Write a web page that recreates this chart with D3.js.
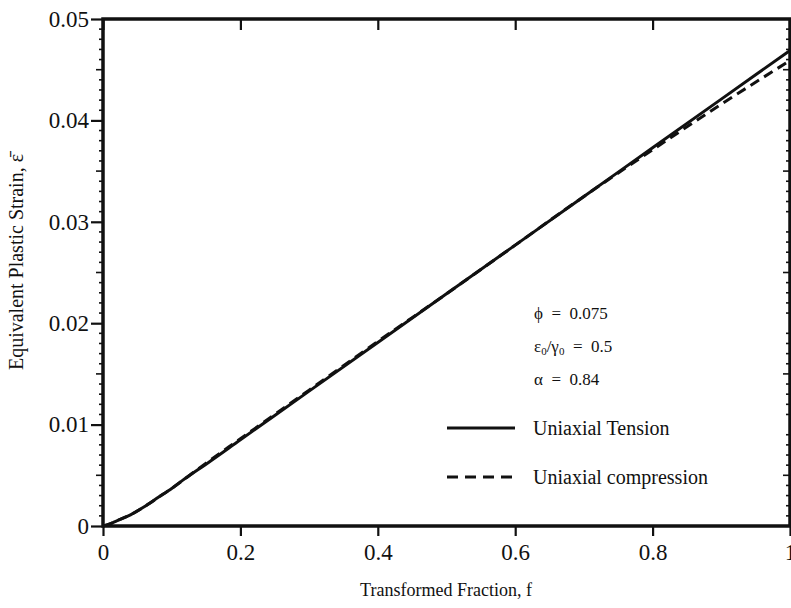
<!DOCTYPE html>
<html><head><meta charset="utf-8">
<script src="https://cdn.jsdelivr.net/npm/d3@7"></script>
<style>body{margin:0;background:#fff;} text{font-family:"Liberation Serif","Times New Roman",serif;fill:#111;}</style>
</head><body>
<svg id="c" width="791" height="608"></svg>
<script>
const fraction = [0, 0.01, 0.02, 0.04, 0.06, 0.08, 0.1, 0.12, 0.15, 0.2, 0.3, 0.4, 0.5, 0.6, 0.7, 0.8, 0.9, 1.0];
const tension = [0, 0.0002, 0.0005, 0.0011, 0.0019, 0.0028, 0.0037, 0.0047, 0.0061, 0.0085, 0.0133, 0.0181, 0.0229, 0.0277, 0.0325, 0.0373, 0.0421, 0.0469];
const compression = [0, 0.0002, 0.0005, 0.0011, 0.0019, 0.0028, 0.0037, 0.0047, 0.0062, 0.0086, 0.0134, 0.0182, 0.0229, 0.0277, 0.0325, 0.0371, 0.0416, 0.0459];
const xTicks = [0, 0.2, 0.4, 0.6, 0.8, 1];
const xTickLabels = ["0", "0.2", "0.4", "0.6", "0.8", "1"];
const yTicks = [0, 0.01, 0.02, 0.03, 0.04, 0.05];
const yTickLabels = ["0", "0.01", "0.02", "0.03", "0.04", "0.05"];
const seriesNames = ["Uniaxial Tension", "Uniaxial compression"];
const params = ["\u03D5\u2002=\u20020.075", "", "\u03B1\u2002=\u20020.84"];

const svg = d3.select("#c");
const L = 103, R = 790, T = 19, B = 526;
const x = d3.scaleLinear().domain([0, 1]).range([L, R]);
const y = d3.scaleLinear().domain([0, 0.05]).range([B, T]);

// minor y ticks
const minor = d3.range(0, 51).map(i => i * 0.001);
const g = svg.append("g");
minor.forEach((v, i) => {
  if (i % 10 === 0) return;
  const len = (i % 5 === 0) ? 7 : 4;
  g.append("line").attr("x1", L - len).attr("x2", L).attr("y1", y(v)).attr("y2", y(v)).attr("stroke", "#111").attr("stroke-width", 1.6);
  g.append("line").attr("x1", R).attr("x2", R - len).attr("y1", y(v)).attr("y2", y(v)).attr("stroke", "#111").attr("stroke-width", 1.6);
});

// axes
const axL = d3.axisLeft(y).tickValues(yTicks).tickFormat((d, i) => yTickLabels[i]).tickSize(12).tickPadding(2);
const axR = d3.axisLeft(y).tickValues(yTicks).tickFormat("").tickSize(-10);
const axB = d3.axisBottom(x).tickValues(xTicks).tickFormat((d, i) => xTickLabels[i]).tickSize(10).tickPadding(8);
const axT = d3.axisTop(x).tickValues(xTicks).tickFormat("").tickSize(-11);

function style(sel) {
  sel.select(".domain").remove();
  sel.selectAll(".tick line").attr("stroke", "#111").attr("stroke-width", 2.2);
  sel.selectAll(".tick text").attr("font-size", 23).attr("fill", "#111");
}
svg.append("g").attr("transform", `translate(${L},0)`).call(axL).call(style);
svg.append("g").attr("transform", `translate(${R},0)`).call(axR).call(style);
svg.append("g").attr("transform", `translate(0,${B})`).call(axB).call(style);
svg.append("g").attr("transform", `translate(0,${T})`).call(axT).call(style);

// frame
svg.append("rect").attr("x", L).attr("y", T).attr("width", R - L).attr("height", B - T)
  .attr("fill", "none").attr("stroke", "#111").attr("stroke-width", 3.5);

// lines
const line = d3.line().x(d => x(d[0])).y(d => y(d[1])).curve(d3.curveMonotoneX);
svg.append("path").datum(fraction.map((f, i) => [f, compression[i]])).attr("d", line)
  .attr("fill", "none").attr("stroke", "#111").attr("stroke-width", 3).attr("stroke-dasharray", "10,6");
svg.append("path").datum(fraction.map((f, i) => [f, tension[i]])).attr("d", line)
  .attr("fill", "none").attr("stroke", "#111").attr("stroke-width", 3);

// parameters
const px = 534;
svg.append("text").attr("x", px).attr("y", 319).attr("font-size", 17).text(params[0]);
const eps = svg.append("text").attr("x", px).attr("y", 352).attr("font-size", 17);
eps.append("tspan").text("\u03B5");
eps.append("tspan").attr("font-size", 11).attr("dy", 3).text("0");
eps.append("tspan").attr("dy", -3).text("/\u03B3");
eps.append("tspan").attr("font-size", 11).attr("dy", 3).text("0");
eps.append("tspan").attr("dy", -3).text("\u2002=\u20020.5");
svg.append("text").attr("x", px).attr("y", 385).attr("font-size", 17).text(params[2]);

// legend
svg.append("line").attr("x1", 447).attr("x2", 515).attr("y1", 428).attr("y2", 428).attr("stroke", "#111").attr("stroke-width", 3);
svg.append("text").attr("x", 533).attr("y", 435).attr("font-size", 20).text(seriesNames[0]);
svg.append("line").attr("x1", 447).attr("x2", 515).attr("y1", 477).attr("y2", 477).attr("stroke", "#111").attr("stroke-width", 3).attr("stroke-dasharray", "11,7");
svg.append("text").attr("x", 533).attr("y", 484).attr("font-size", 20).text(seriesNames[1]);

// axis titles
svg.append("text").attr("x", 446).attr("y", 596).attr("text-anchor", "middle").attr("font-size", 18).text("Transformed Fraction,  f");
svg.append("text").attr("transform", "translate(23,262) rotate(-90)").attr("text-anchor", "middle").attr("font-size", 20)
  .text("Equivalent Plastic Strain,  \u03B5\u0304");
</script>
</body></html>
